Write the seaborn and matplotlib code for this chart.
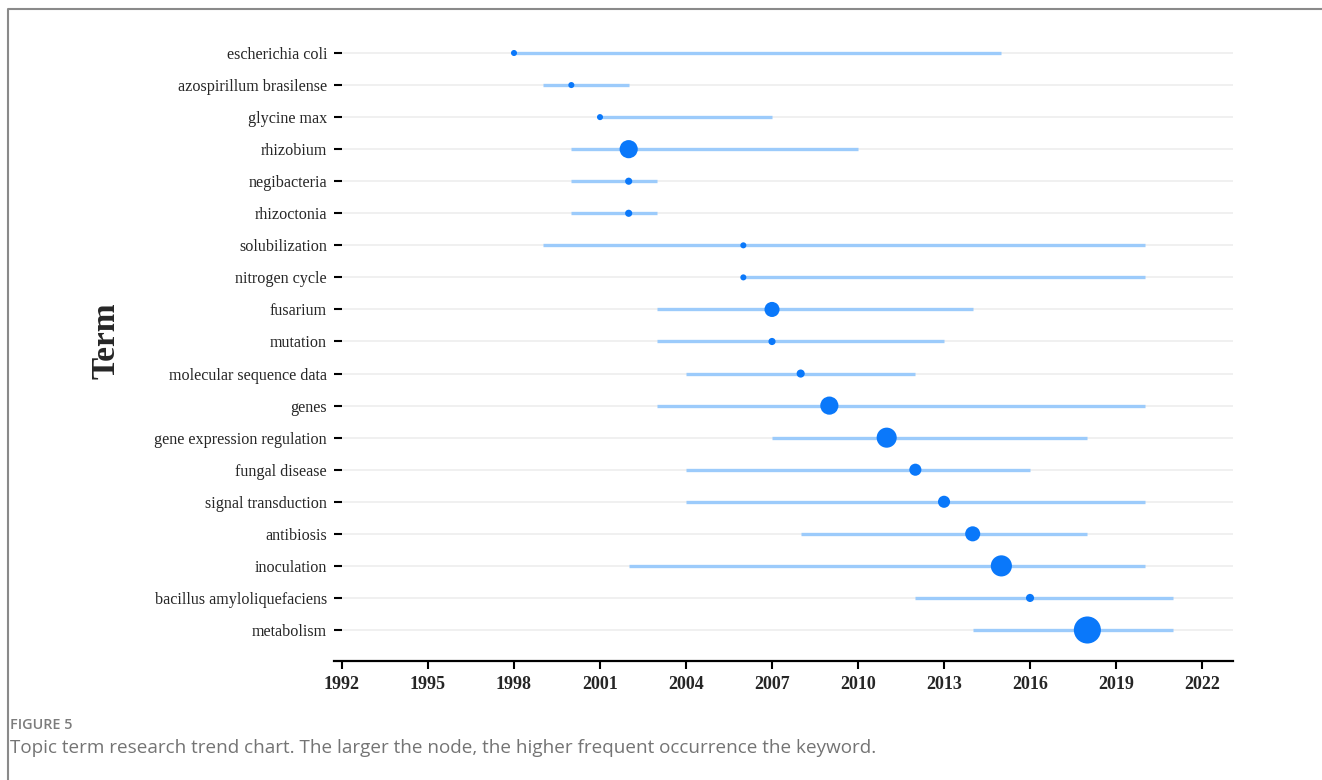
import numpy as np
import pandas as pd
import matplotlib
matplotlib.use("Agg")
import matplotlib.pyplot as plt
from matplotlib.lines import Line2D
import seaborn as sns

terms = ["escherichia coli", "azospirillum brasilense", "glycine max", "rhizobium",
         "negibacteria", "rhizoctonia", "solubilization", "nitrogen cycle", "fusarium",
         "mutation", "molecular sequence data", "genes", "gene expression regulation",
         "fungal disease", "signal transduction", "antibiosis", "inoculation",
         "bacillus amyloliquefaciens", "metabolism"]
year_start = [1998, 1999, 2001, 2000, 2000, 2000, 1999, 2006, 2003, 2003, 2004, 2003,
              2007, 2004, 2004, 2008, 2002, 2012, 2014]
year_end = [2015, 2002, 2007, 2010, 2003, 2003, 2020, 2020, 2014, 2013, 2012, 2020,
            2018, 2016, 2020, 2018, 2020, 2021, 2021]
peak_year = [1998, 2000, 2001, 2002, 2002, 2002, 2006, 2006, 2007, 2007, 2008, 2009,
             2011, 2012, 2013, 2014, 2015, 2016, 2018]
freq = [5, 5, 5, 45, 7, 7, 5, 5, 31, 7, 9, 45, 55, 20, 20, 31, 61, 9, 100]
year_ticks = [1992, 1995, 1998, 2001, 2004, 2007, 2010, 2013, 2016, 2019, 2022]

df = pd.DataFrame({"term": terms, "start": year_start, "end": year_end,
                   "peak": peak_year, "freq": freq})
df["pos"] = np.arange(len(df))

sns.set_theme(style="white")
plt.rcParams["font.family"] = ["Liberation Serif", "DejaVu Serif"]

fig = plt.figure(figsize=(13.22, 7.8), dpi=100)
ax = fig.add_axes([334 / 1322, 1 - 661 / 780, 899 / 1322, 641 / 780])

# row gridlines
for p in df["pos"]:
    ax.axhline(p, color="#efefef", lw=1.3, zorder=0)

ax.hlines(df["pos"], df["start"], df["end"], color="#9ccbfb", lw=2.4, zorder=1)
sns.scatterplot(data=df, x="peak", y="pos", size="freq", sizes=(0, 380),
                size_norm=(0, 100), color="#0a78fa", edgecolor="none",
                legend=False, ax=ax, zorder=3)

ax.set_xlim(1992 - 8 / 28.7, 2022 + 31 / 28.7)
ax.set_ylim(18 + 31 / 32.06, -33 / 32.06)
ax.set_xticks(year_ticks)
ax.set_xticklabels([str(y) for y in year_ticks], fontsize=13, fontweight="bold")
ax.set_yticks(df["pos"])
ax.set_yticklabels(terms, fontsize=11.6)
ax.tick_params(axis="x", direction="out", length=6, width=1.5, color="black",
               pad=5, bottom=True)
ax.tick_params(axis="y", direction="in", length=5.5, width=1.5, color="black",
               pad=5, left=True)
for s in ["left", "top", "right"]:
    ax.spines[s].set_visible(False)
ax.spines["bottom"].set_color("black")
ax.spines["bottom"].set_linewidth(1.6)
ax.set_xlabel("")
ax.set_ylabel("Term", fontsize=24, fontweight="bold")
ax.yaxis.set_label_coords(-0.236, 0.5)

# outer frame
fig.add_artist(Line2D([8 / 1322, 8 / 1322, 1.0], [0.0, 1 - 9 / 780, 1 - 9 / 780],
                      transform=fig.transFigure, color="#8a8a8a", lw=1.5))

fig.text(10 / 1322, 1 - 725 / 780, "FIGURE 5", family="Open Sans", fontsize=10.4,
         fontweight="semibold", color="#7c7c7c", va="center", ha="left")
fig.text(10 / 1322, 1 - 748 / 780,
         "Topic term research trend chart. The larger the node, the higher frequent occurrence the keyword.",
         family="Open Sans", fontsize=13.6, color="#747474", va="center", ha="left")

fig.savefig("out.png", dpi=100)
